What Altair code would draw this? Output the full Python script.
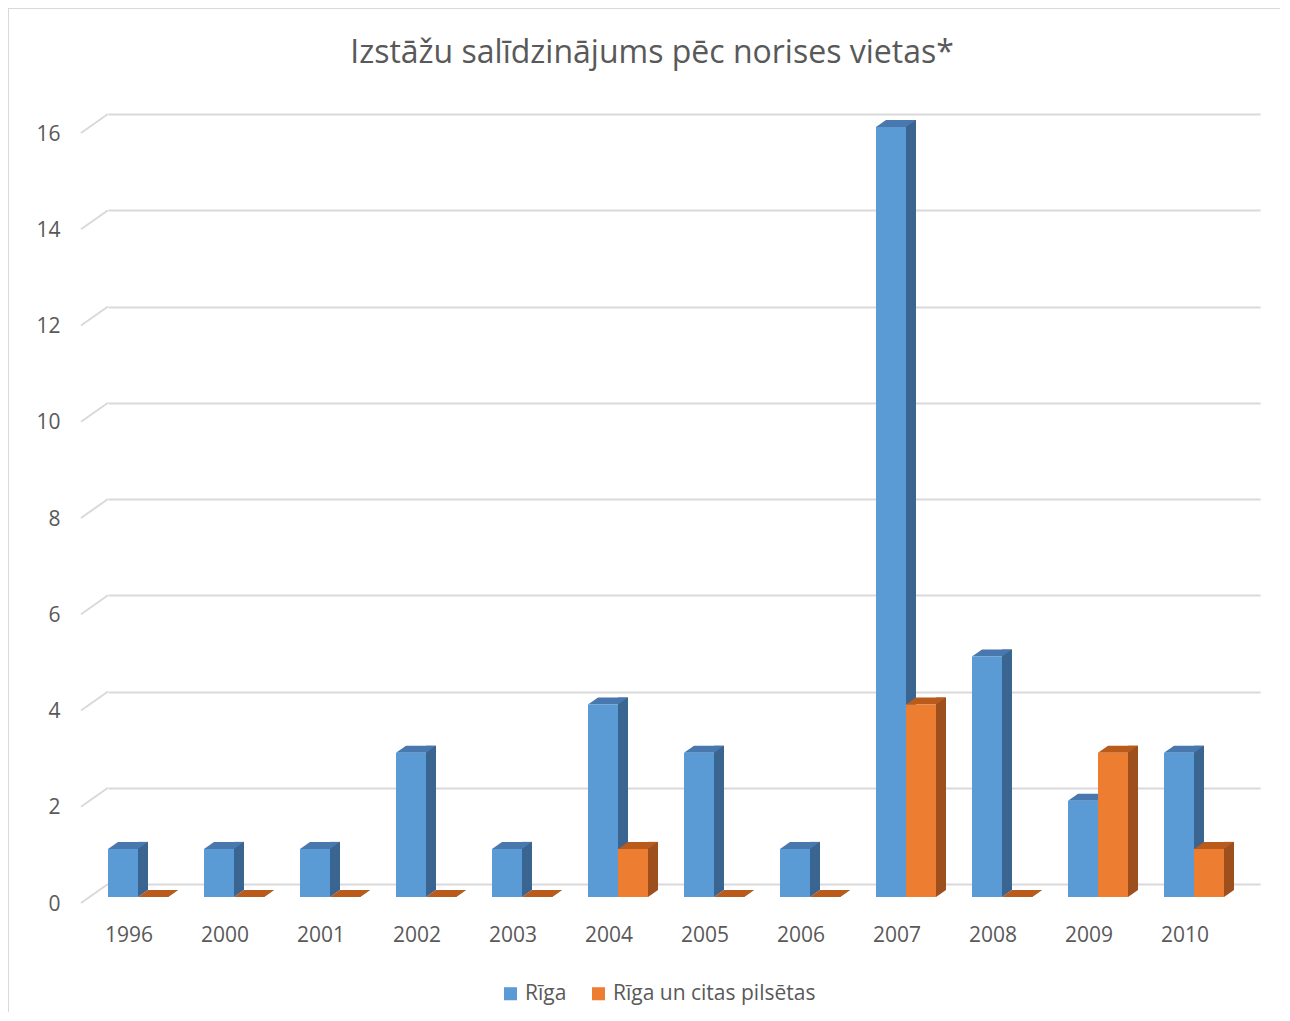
import altair as alt
import pandas as pd

years = ["1996", "2000", "2001", "2002", "2003", "2004", "2005", "2006", "2007", "2008", "2009", "2010"]
riga = [1, 1, 1, 3, 1, 4, 3, 1, 16, 5, 2, 3]
riga_other = [0, 0, 0, 0, 0, 1, 0, 0, 4, 0, 3, 1]
series_names = ["Rīga", "Rīga un citas pilsētas"]
y_ticks = [0, 2, 4, 6, 8, 10, 12, 14, 16]
title_text = "Izstāžu salīdzinājums pēc norises vietas*"

front_colors = ["#5B9BD5", "#ED7D31"]
side_colors = ["#3A6591", "#9E4F1E"]
top_colors = ["#4878AE", "#B95B1D"]

rows = []
for i, yr in enumerate(years):
    rows.append({"year": yr, "series": series_names[0], "value": riga[i]})
    rows.append({"year": yr, "series": series_names[1], "value": riga_other[i]})
df = pd.DataFrame(rows)
ticks_df = pd.DataFrame({"v": y_ticks})

FONT = "Open Sans"
GRAY = "#595959"
GRID = "#D9D9D9"
W, H = 1152, 770
FY = 13      # front face vertical offset
DY = -7      # depth vertical
BW = 30      # bar width
# horizontal centre offsets (from band centre) for each series
FRONT_X = [-33, -3]
SIDE_X = [-13, 17]

xscale = alt.Scale(domain=years, paddingInner=0, paddingOuter=0)
yscale = alt.Scale(domain=[0, 16])

def col(rng):
    return alt.Color("series:N", scale=alt.Scale(domain=series_names, range=rng), legend=None)

x_axis = alt.Axis(title=None, domain=False, ticks=False, grid=False,
                  labelAngle=0, labelFontSize=21, labelFont=FONT, labelColor=GRAY,
                  labelPadding=40, labelOffset=-27)
y_axis = alt.Axis(title=None, domain=False, ticks=False, values=y_ticks,
                  grid=True, gridColor=GRID, gridWidth=2,
                  labelFontSize=21, labelFont=FONT, labelColor=GRAY,
                  labelPadding=48, labelOffset=20)

base = alt.Chart(df)

# axis-carrying invisible layer
axes = base.mark_bar(opacity=0).encode(
    x=alt.X("year:N", scale=xscale, sort=years, axis=x_axis),
    y=alt.Y("value:Q", scale=yscale, axis=y_axis))

sides, tris, tops, fronts = [], [], [], []
for si, s in enumerate(series_names):
    b = base.transform_filter(alt.datum.series == s)
    xe = alt.X("year:N", scale=xscale, sort=years)
    sides.append(b.mark_bar(width=10, xOffset=SIDE_X[si], yOffset=FY + DY, y2Offset=FY + DY).encode(
        x=xe, y=alt.Y("value:Q", scale=yscale), y2=alt.datum(0), color=col(side_colors)))
    tris.append(b.mark_point(
        shape="M 0.75 0 L 0.75 -0.35 L 1.25 -0.35 Z", size=1600, filled=True, opacity=1,
        strokeWidth=0, xOffset=FRONT_X[si], yOffset=FY).encode(
        x=xe, y=alt.Y("z:Q", scale=yscale), color=col(side_colors)).transform_calculate(z="0"))
    tops.append(b.mark_point(
        shape="M -0.75 0 L 0.75 0 L 1.25 -0.35 L -0.25 -0.35 Z", size=1600, filled=True, opacity=1,
        strokeWidth=0, xOffset=FRONT_X[si], yOffset=FY).encode(
        x=xe, y=alt.Y("value:Q", scale=yscale), color=col(top_colors)))
    leg = None
    if si == 0:
        leg = alt.Legend(
            title=None, orient="none", legendX=392, legendY=869, direction="horizontal",
            symbolType="square", symbolSize=170, symbolStrokeWidth=0, labelFontSize=21,
            labelFont=FONT, labelColor=GRAY, columnPadding=21, labelOffset=4, labelLimit=400)
    fronts.append(b.mark_bar(width=BW, xOffset=FRONT_X[si], yOffset=FY, y2Offset=FY).encode(
        x=xe, y=alt.Y("value:Q", scale=yscale), y2=alt.datum(0),
        color=alt.Color("series:N", scale=alt.Scale(domain=series_names, range=front_colors),
                        legend=leg)))

slant = alt.Chart(ticks_df).mark_rule(color=GRID, strokeWidth=2, yOffset=19, y2Offset=0).encode(
    x=alt.value(-27), x2=alt.value(0),
    y=alt.Y("v:Q", scale=yscale), y2=alt.Y2("v:Q"))

border_left = alt.Chart(ticks_df).mark_rule(color=GRID, strokeWidth=2).encode(
    x=alt.value(-100), y=alt.value(-106), y2=alt.value(920))
border_top = alt.Chart(ticks_df).mark_rule(color=GRID, strokeWidth=2).encode(
    x=alt.value(-100), x2=alt.value(1220), y=alt.value(-106))

title = alt.Chart(pd.DataFrame({"t": [title_text]})).mark_text(
    font=FONT, fontSize=32, color=GRAY, align="center", baseline="middle").encode(
    x=alt.value(544), y=alt.value(-61), text="t:N")

layers = [axes, border_left, border_top, title, slant] + sides + tris + tops + fronts
chart = alt.layer(*layers).resolve_scale(
    color="independent"
).properties(
    width=W, height=H,
    autosize=alt.AutoSizeParams(type="none"),
    padding={"left": 100, "top": 106, "right": 20, "bottom": 128},
    background="white",
).configure_view(stroke=None)

chart.save("out.html", embed_options={"renderer": "svg", "actions": False})
